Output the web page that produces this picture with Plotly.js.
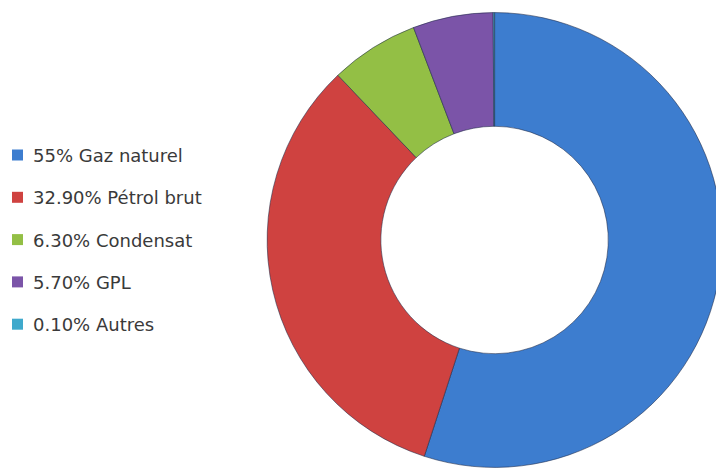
<!DOCTYPE html>
<html>
<head>
<meta charset="utf-8">
<script src="https://cdn.plot.ly/plotly-3.0.1.min.js"></script>
<style>
html,body{margin:0;padding:0;overflow:hidden;background:#fff;width:716px;height:468px;}
#chart{width:722px;height:468px;}
</style>
</head>
<body>
<div id="chart"></div>
<script>
var categories = ["Gaz naturel", "Pétrol brut", "Condensat", "GPL", "Autres"];
var values = [55, 32.9, 6.3, 5.7, 0.1];
var legendLabels = ["55% Gaz naturel", "32.90% Pétrol brut", "6.30% Condensat", "5.70% GPL", "0.10% Autres"];
var colors = ["#3D7DCF", "#CF4240", "#93BF45", "#7B54A8", "#3FA9CC"];

var W = 722, H = 468, MT = 12, MB = 0;
var PH = H - MT - MB;
function py(pix) { return 1 - (pix - MT) / PH; }
function px(pix) { return pix / W; }

var trace = {
  type: "pie",
  labels: categories,
  values: values,
  hole: 0.5,
  sort: false,
  direction: "clockwise",
  rotation: 0,
  textinfo: "none",
  hoverinfo: "label+percent",
  marker: {colors: colors, line: {color: "rgba(30,40,70,0.55)", width: 1}},
  domain: {x: [0.37, 1], y: [0, 1]},
  showlegend: false
};

var annotations = [], shapes = [];
var y0 = 155, dy = 42.3;
for (var i = 0; i < legendLabels.length; i++) {
  var cy = y0 + i * dy;
  annotations.push({
    xref: "paper", yref: "paper",
    x: px(31), y: py(cy + 0.5),
    xanchor: "left", yanchor: "middle",
    text: legendLabels[i], showarrow: false,
    font: {family: "DejaVu Sans, sans-serif", size: 18, color: "#3a3a3a"}
  });
  shapes.push({
    type: "rect", xref: "paper", yref: "paper",
    x0: px(12), x1: px(23), y0: py(cy - 5.5), y1: py(cy + 5.5),
    fillcolor: colors[i], line: {width: 0}
  });
}

var layout = {
  width: W, height: H,
  margin: {l: 0, r: 0, t: MT, b: MB},
  paper_bgcolor: "#ffffff",
  plot_bgcolor: "#ffffff",
  showlegend: false,
  annotations: annotations,
  shapes: shapes
};
Plotly.newPlot("chart", [trace], layout, {displayModeBar: false, staticPlot: true});
</script>
</body>
</html>
